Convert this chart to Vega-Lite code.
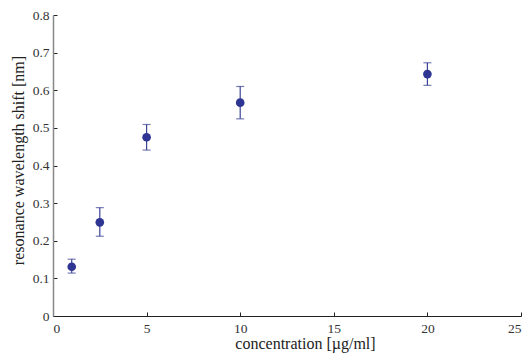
{
  "$schema": "https://vega.github.io/schema/vega-lite/v6.json",
  "width": 468,
  "height": 301,
  "autosize": "none",
  "padding": {"left": 53, "top": 15, "right": 6, "bottom": 40},
  "background": "white",
  "config": {
    "view": {"stroke": null},
    "font": "Liberation Serif",
    "axis": {
      "grid": false,
      "labelFont": "Liberation Serif",
      "titleFont": "Liberation Serif",
      "labelFontSize": 13.5,
      "titleFontSize": 16,
      "titleFontWeight": "normal",
      "labelColor": "#333",
      "titleColor": "#222",
      "tickColor": "#222",
      "tickSize": -4,
      "tickWidth": 1,
      "labelOverlap": false
    }
  },
  "data": {
    "values": [
      {"c": 1, "shift": 0.131, "lo": 0.114, "hi": 0.151},
      {"c": 2.5, "shift": 0.249, "lo": 0.212, "hi": 0.288},
      {"c": 5, "shift": 0.475, "lo": 0.441, "hi": 0.509},
      {"c": 10, "shift": 0.567, "lo": 0.524, "hi": 0.61},
      {"c": 20, "shift": 0.643, "lo": 0.613, "hi": 0.673}
    ]
  },
  "encoding": {
    "x": {
      "field": "c", "type": "quantitative",
      "scale": {"domain": [0, 25], "nice": false, "zero": true},
      "axis": {"values": [0, 5, 10, 15, 20, 25], "title": "concentration [µg/ml]", "domainColor": "#222", "labelPadding": 9, "titleY": 19, "titleX": 252, "titleAlign": "center", "titleBaseline": "top", "labelOverlap": false}
    }
  },
  "layer": [
    {
      "mark": {"type": "errorbar", "ticks": {"size": 8, "color": "#3a4396"}, "color": "#3a4396", "thickness": 1.2},
      "encoding": {
        "y": {
          "field": "lo", "type": "quantitative",
          "scale": {"domain": [0, 0.8], "nice": false},
          "axis": {"values": [0, 0.1, 0.2, 0.3, 0.4, 0.5, 0.6, 0.7, 0.8], "format": "~g", "title": "resonance wavelength shift [nm]", "domainColor": "#888", "domainWidth": 1.5, "labelPadding": 8, "titleX": -27, "titleY": 145, "titleAlign": "center", "labelOverlap": false}
        },
        "y2": {"field": "hi"}
      }
    },
    {
      "mark": {"type": "point", "filled": true, "size": 75, "color": "#2e3592", "opacity": 1},
      "encoding": {
        "y": {
          "field": "shift", "type": "quantitative",
          "scale": {"domain": [0, 0.8], "nice": false},
          "title": "resonance wavelength shift [nm]",
          "axis": {"values": [0, 0.1, 0.2, 0.3, 0.4, 0.5, 0.6, 0.7, 0.8], "format": "~g", "title": "resonance wavelength shift [nm]", "domainColor": "#888", "domainWidth": 1.5, "labelPadding": 8, "titleX": -27, "titleY": 145, "titleAlign": "center", "labelOverlap": false}
        }
      }
    }
  ]
}
